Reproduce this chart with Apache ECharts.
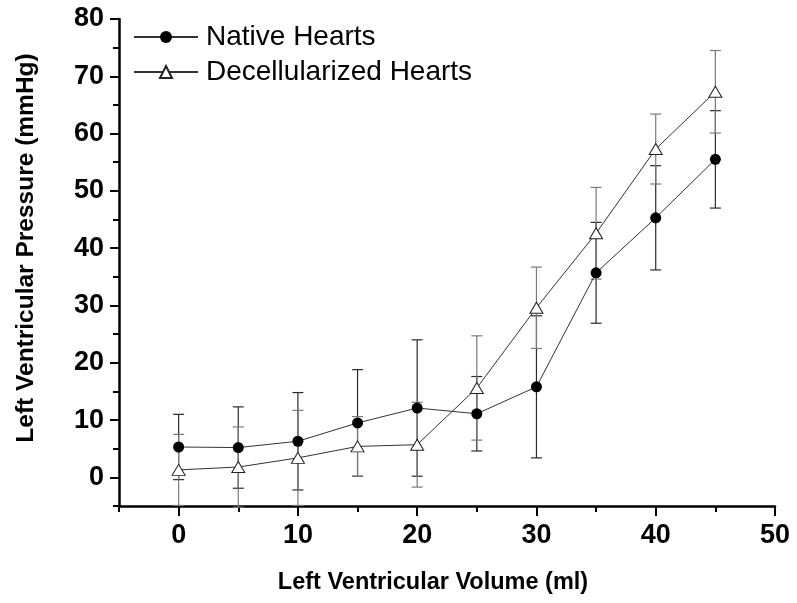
<!DOCTYPE html>
<html>
<head>
<meta charset="utf-8">
<script src="https://cdn.jsdelivr.net/npm/echarts@6/dist/echarts.min.js"></script>
<style>
html,body{margin:0;padding:0;background:#fff;}
#chart{width:797px;height:603px;}
</style>
</head>
<body>
<div id="chart"></div>
<script>
// ---- data ----
var volumes = [0, 5, 10, 15, 20, 25, 30, 35, 40, 45];
var nativePressure = [5.3, 5.2, 6.3, 9.5, 12.1, 11.1, 15.8, 35.7, 45.3, 55.5];
var nativeError = [5.7, 7.1, 8.5, 9.3, 11.9, 6.5, 12.4, 8.8, 9.1, 8.5];
var decellPressure = [1.3, 1.8, 3.4, 5.4, 5.7, 15.6, 29.6, 42.6, 57.3, 67.3];
var decellError = [6.2, 7.0, 8.3, 5.2, 7.4, 9.1, 7.1, 8.0, 6.1, 7.2];
var xMajorTicks = [0, 10, 20, 30, 40, 50];
var yMajorTicks = [0, 10, 20, 30, 40, 50, 60, 70, 80];
var seriesNames = ['Native Hearts', 'Decellularized Hearts'];
var xTitle = 'Left Ventricular Volume (ml)';
var yTitle = 'Left Ventricular Pressure (mmHg)';

var FONT = '"Liberation Sans", Arial, Helvetica, sans-serif';

function pairs(xs, ys) {
  return xs.map(function (x, i) { return [x, ys[i]]; });
}
function errData(xs, ys, es) {
  return xs.map(function (x, i) { return [x, ys[i] - es[i], ys[i] + es[i]]; });
}
function errRender(color) {
  return function (params, api) {
    var x = api.value(0);
    var lo = api.coord([x, api.value(1)]);
    var hi = api.coord([x, api.value(2)]);
    var hw = 5.5;
    var st = { stroke: color, lineWidth: 1.2 };
    return {
      type: 'group',
      children: [
        { type: 'line', shape: { x1: lo[0], y1: lo[1], x2: hi[0], y2: hi[1] }, style: st },
        { type: 'line', shape: { x1: lo[0] - hw, y1: lo[1], x2: lo[0] + hw, y2: lo[1] }, style: st },
        { type: 'line', shape: { x1: hi[0] - hw, y1: hi[1], x2: hi[0] + hw, y2: hi[1] }, style: st }
      ]
    };
  };
}

var chart = echarts.init(document.getElementById('chart'), null, { renderer: 'canvas' });
var axisLineStyle = { color: '#000', width: 2.5 };
var tickStyle = { color: '#000', width: 2 };
var labelStyle = { color: '#000', fontSize: 27, fontWeight: 'bold', fontFamily: FONT };

chart.setOption({
  animation: false,
  backgroundColor: '#fff',
  grid: { left: 119, right: 22, top: 19, bottom: 97, containLabel: false },
  legend: {
    data: seriesNames,
    orient: 'vertical',
    left: 133,
    top: 22,
    padding: 0,
    itemWidth: 64,
    itemHeight: 15,
    itemGap: 5,
    textStyle: { color: '#000', fontSize: 28, fontFamily: FONT, lineHeight: 30, padding: [0, 0, 0, 3] }
  },
  xAxis: [
    {
      type: 'value', min: -5, max: 50, interval: 5, position: 'bottom',
      axisLine: { show: true, onZero: false, lineStyle: axisLineStyle },
      axisTick: { show: true, length: 6, lineStyle: tickStyle },
      axisLabel: { show: false },
      splitLine: { show: false }
    },
    {
      type: 'value', min: -5, max: 50, position: 'bottom',
      axisLine: { show: false, onZero: false },
      axisTick: { show: true, length: 10, customValues: xMajorTicks, lineStyle: tickStyle },
      axisLabel: Object.assign({ show: true, margin: 16, customValues: xMajorTicks }, labelStyle),
      splitLine: { show: false }
    }
  ],
  yAxis: [
    {
      type: 'value', min: -5, max: 80, interval: 5, position: 'left',
      axisLine: { show: true, onZero: false, lineStyle: axisLineStyle },
      axisTick: { show: true, length: 6, lineStyle: tickStyle },
      axisLabel: { show: false },
      splitLine: { show: false }
    },
    {
      type: 'value', min: -5, max: 80, position: 'left',
      axisLine: { show: false, onZero: false },
      axisTick: { show: true, length: 9, customValues: yMajorTicks, lineStyle: tickStyle },
      axisLabel: Object.assign({ show: true, margin: 15, customValues: yMajorTicks }, labelStyle),
      splitLine: { show: false }
    }
  ],
  series: [
    {
      name: 'Native SD', type: 'custom', z: 1,
      data: errData(volumes, nativePressure, nativeError),
      encode: { x: 0, y: [1, 2] },
      renderItem: errRender('#2a2a2a')
    },
    {
      name: 'Decellularized SD', type: 'custom', z: 1,
      data: errData(volumes, decellPressure, decellError),
      encode: { x: 0, y: [1, 2] },
      renderItem: errRender('#7a7a7a')
    },
    {
      name: seriesNames[0], type: 'line', z: 3,
      data: pairs(volumes, nativePressure),
      symbol: 'circle', symbolSize: 11,
      lineStyle: { color: '#333', width: 1 },
      itemStyle: { color: '#000', borderColor: '#000', borderWidth: 0 }
    },
    {
      name: seriesNames[1], type: 'line', z: 3,
      data: pairs(volumes, decellPressure),
      symbol: 'triangle', symbolSize: [13, 11],
      lineStyle: { color: '#333', width: 1 },
      itemStyle: { color: '#fff', borderColor: '#222', borderWidth: 1 }
    }
  ],
  graphic: [
    {
      type: 'text', x: 433, y: 583,
      style: { text: xTitle, align: 'center', verticalAlign: 'middle', fill: '#000',
               font: 'bold 23.5px ' + FONT }
    },
    {
      type: 'text', x: 26.5, y: 248, rotation: Math.PI / 2,
      style: { text: yTitle, align: 'center', verticalAlign: 'middle', fill: '#000',
               font: 'bold 24.5px ' + FONT }
    }
  ]
});
</script>
</body>
</html>
